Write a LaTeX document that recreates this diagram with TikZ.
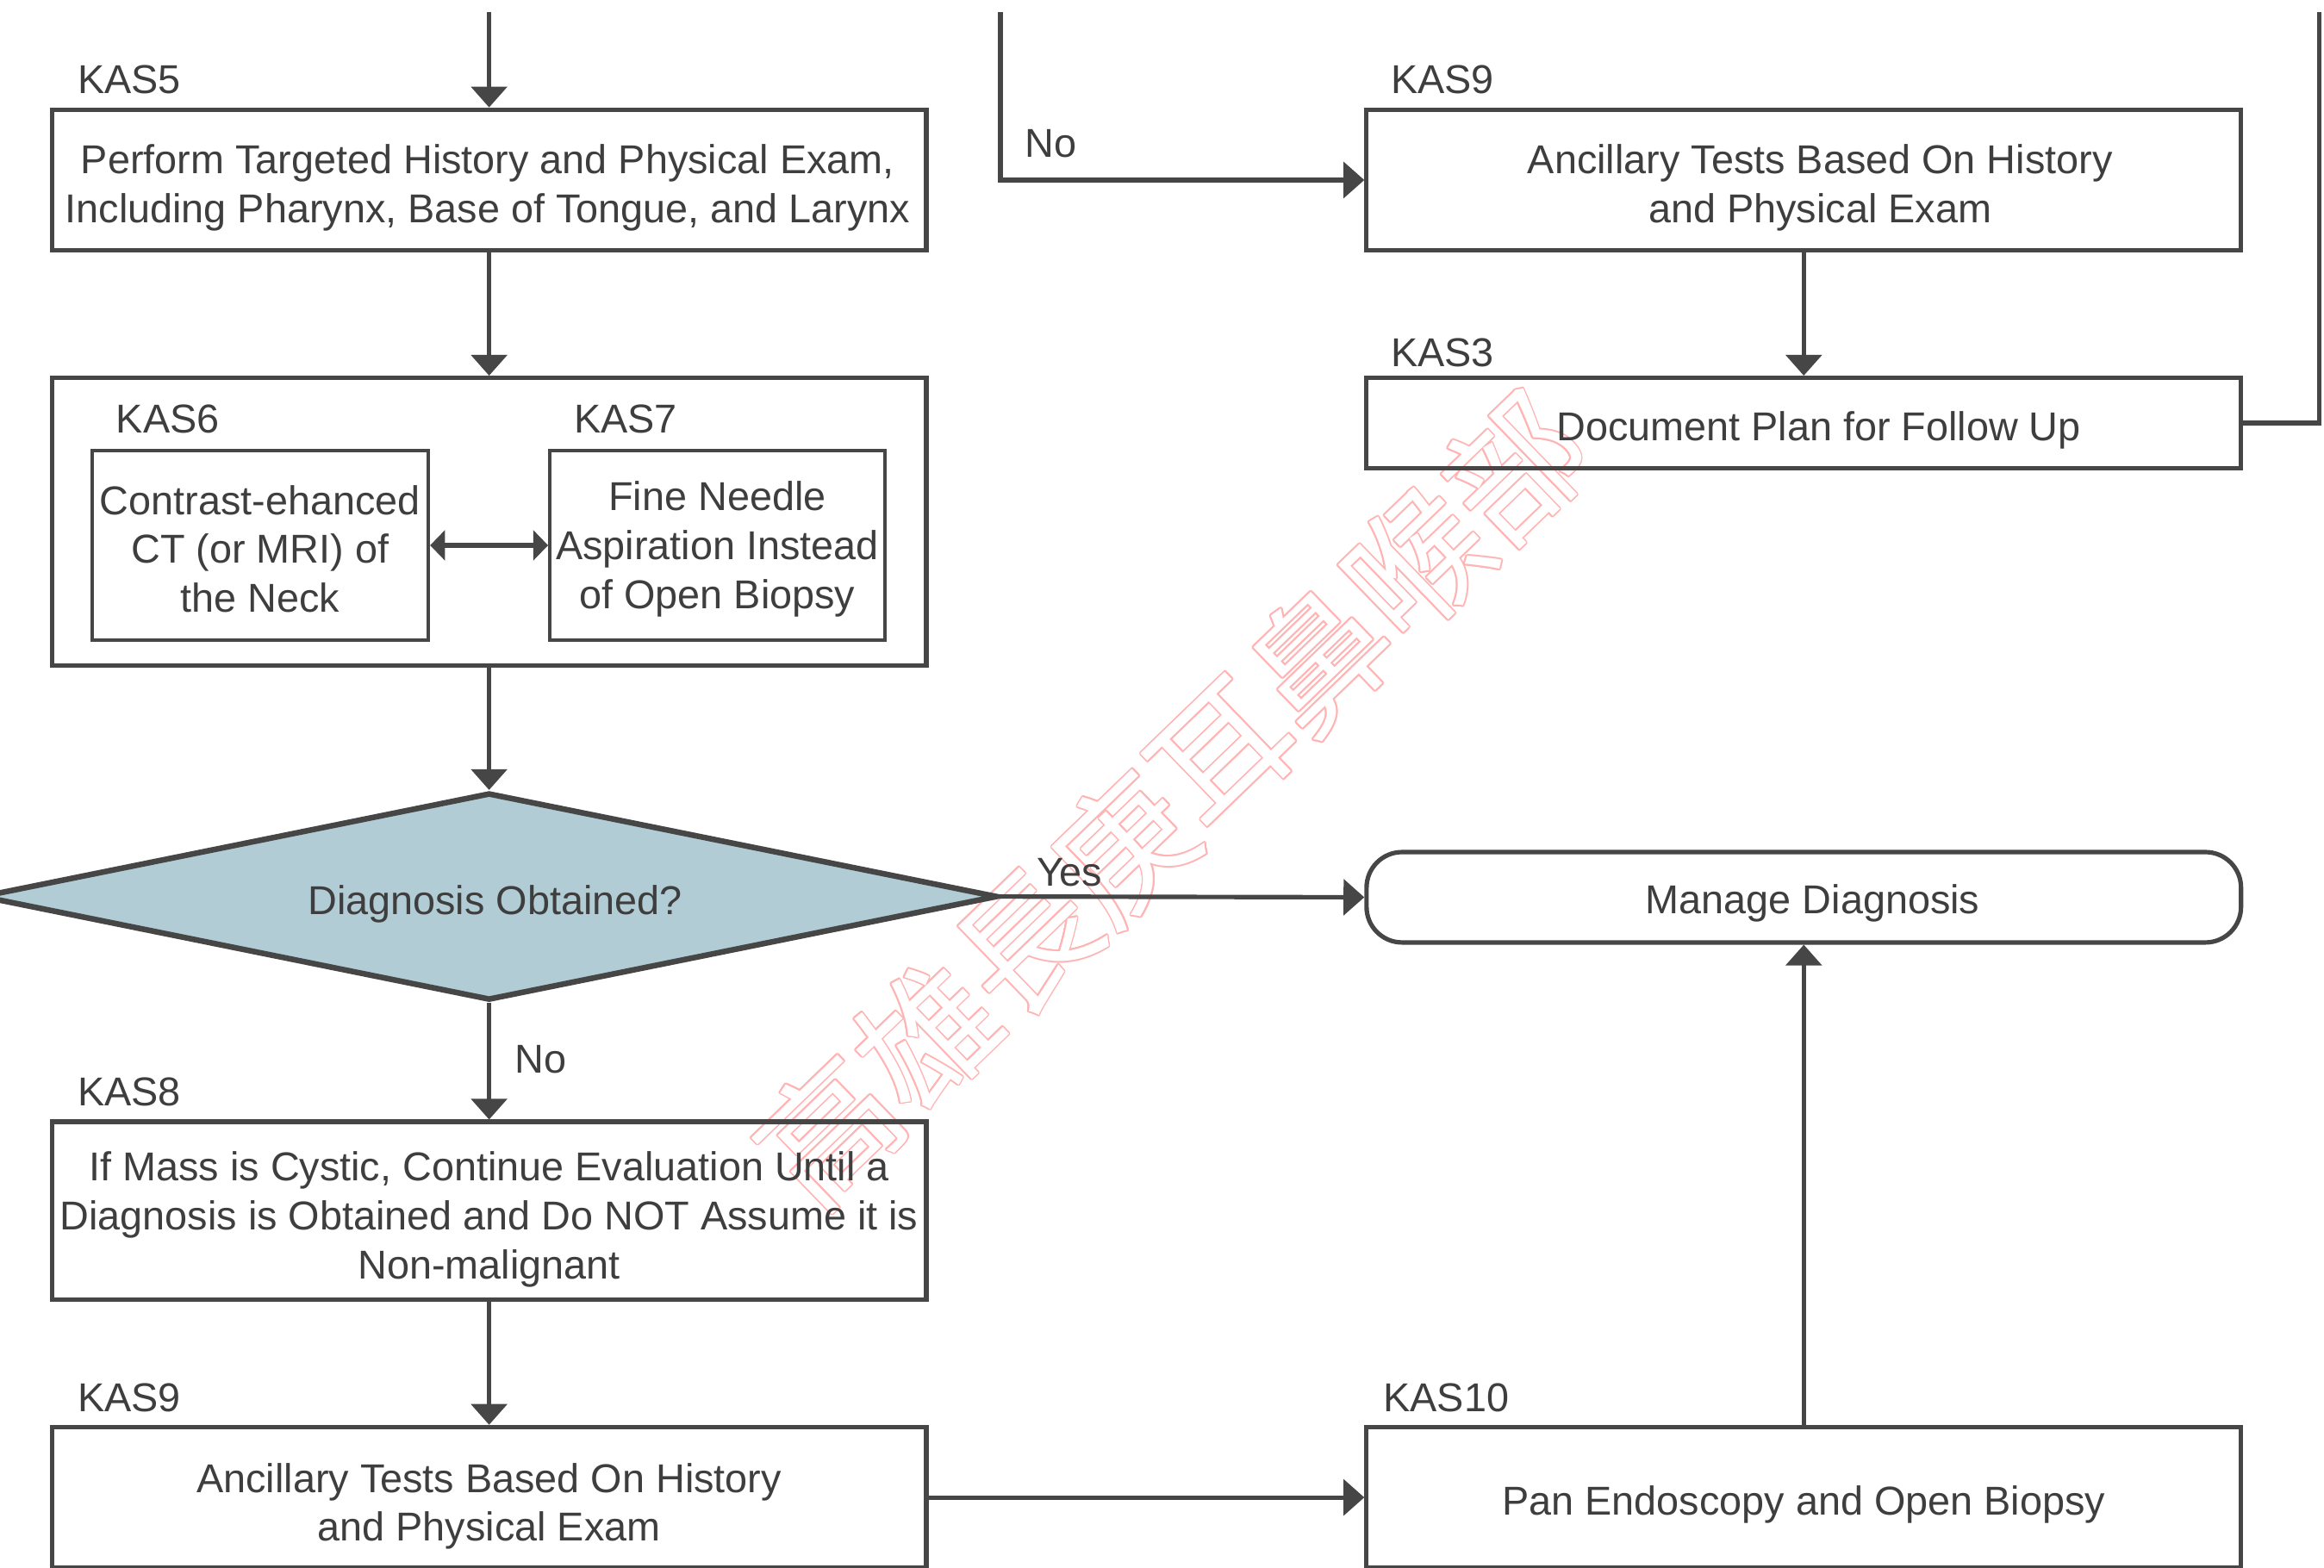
\documentclass[tikz,border=0pt]{standalone}
\usepackage{fontspec}
\setmainfont{Liberation Sans}
\newfontfamily\cjkfont{Noto Sans CJK TC}
\usepackage{contour}
\contourlength{0.5pt}
\usetikzlibrary{arrows.meta,shapes.geometric}
\definecolor{lc}{RGB}{70,70,70}
\definecolor{tc}{RGB}{62,62,62}
\definecolor{dfill}{RGB}{177,204,212}
\definecolor{wmc}{RGB}{255,180,180}
\newcommand\fs{\fontsize{13.6pt}{16.5pt}\selectfont}
\tikzset{
  line/.style={draw=lc, line width=1.5pt},
  arr/.style={line, -{Triangle[length=7pt,width=12pt]}},
  darr/.style={line, {Triangle[length=5pt,width=10pt]}-{Triangle[length=5pt,width=10pt]}},
  box/.style={draw=lc, line width=1.5pt, rectangle, inner sep=0pt},
  ibox/.style={box, line width=1.2pt},
  dia/.style={diamond, aspect=4.9, draw=lc, line width=1.9pt, fill=dfill, inner sep=0pt},
  txt/.style={inner sep=0pt, text=tc, align=center, font=\fs},
  kas/.style={anchor=west, inner sep=0pt, text=tc, font=\fs},
}
\begin{document}
\begin{tikzpicture}[x=0.5pt,y=-0.5pt]
\useasboundingbox (0,0) rectangle (1568,1058);
% watermark
\node[rotate=44, inner sep=0pt, text=white, font=\cjkfont\fontsize{46pt}{46pt}\selectfont] (wm) at (791,540) {\contour{wmc}{高雄長庚耳鼻喉部}};

% boxes
\node[box, minimum width=295pt, minimum height=47.5pt] (kas5) at (330,121.5) {};
\node[txt] (t5) at (329,126.5) {Perform Targeted History and Physical Exam,\\Including Pharynx, Base of Tongue, and Larynx};
\node[box, minimum width=295pt, minimum height=97pt] (grp) at (330,352) {};
\node[ibox, minimum width=113.5pt, minimum height=64pt] (kas6) at (175.5,368) {};
\node[txt] (t6) at (175.5,370.5) {Contrast-ehanced\\CT (or MRI) of\\the Neck};
\node[ibox, minimum width=113pt, minimum height=64pt] (kas7) at (484,368) {};
\node[txt] (t7) at (484,370.5) {Fine Needle\\Aspiration Instead\\of Open Biopsy};
\node[dia, minimum width=343pt, minimum height=70pt] (dia) at (330,605) {};
\node[txt] (td) at (334,610) {Diagnosis Obtained?};
\node[box, minimum width=295pt, minimum height=60pt] (kas8) at (330,817) {};
\node[txt] (t8) at (330,823) {If Mass is Cystic, Continue Evaluation Until a\\Diagnosis is Obtained and Do NOT Assume it is\\Non-malignant};
\node[box, minimum width=295pt, minimum height=47.5pt] (kas9b) at (330,1010.5) {};
\node[txt] (t9b) at (330,1016.5) {Ancillary Tests Based On History\\and Physical Exam};

\node[box, minimum width=295pt, minimum height=47.5pt] (kas9t) at (1217,121.5) {};
\node[txt] (t9t) at (1228,126.5) {Ancillary Tests Based On History\\and Physical Exam};
\node[box, minimum width=295pt, minimum height=30.5pt] (kas3) at (1217,285.5) {};
\node[txt] (t3) at (1227,290.5) {Document Plan for Follow Up};
\node[box, rounded corners=12pt, minimum width=295pt, minimum height=30.5pt] (mng) at (1217,605.5) {};
\node[txt] (tm) at (1223,609.5) {Manage Diagnosis};
\node[box, minimum width=295pt, minimum height=47.5pt] (kas10) at (1217,1010.5) {};
\node[txt] (t10) at (1217,1015.5) {Pan Endoscopy and Open Biopsy};

% labels
\node[kas] (l5) at (52,54) {KAS5};
\node[kas] (l6) at (78,283) {KAS6};
\node[kas] (l7) at (387,283) {KAS7};
\node[kas] (l8) at (52,737) {KAS8};
\node[kas] (l9b) at (52,943) {KAS9};
\node[kas] (l9t) at (938,54) {KAS9};
\node[kas] (l3) at (938,238) {KAS3};
\node[kas] (l10) at (933,943) {KAS10};
\node[kas] (yes) at (699,589) {Yes};
\node[kas] (no1) at (347,715) {No};
\node[kas] (no2) at (691,97) {No};

% connectors
\coordinate (in1) at (330,8);
\coordinate (in2) at (675,8);
\coordinate (out1) at (1565,8);
\draw[arr] (in1) -- (kas5.north);
\draw[arr] (kas5.south) -- (grp.north);
\draw[darr] (kas6.east) -- (kas7.west);
\draw[arr] (grp.south) -- (dia.north);
\draw[arr] (dia.east) -- (mng.west);
\draw[arr] (dia.south) -- (kas8.north);
\draw[arr] (kas8.south) -- (kas9b.north);
\draw[arr] (kas9b.east) -- (kas10.west);
\draw[arr] (kas10.north) -- (mng.south);
\draw[arr] (in2) |- (kas9t.west);
\draw[arr] (kas9t.south) -- (kas3.north);
\draw[line] (kas3.east) -| (out1);
\end{tikzpicture}
\end{document}
